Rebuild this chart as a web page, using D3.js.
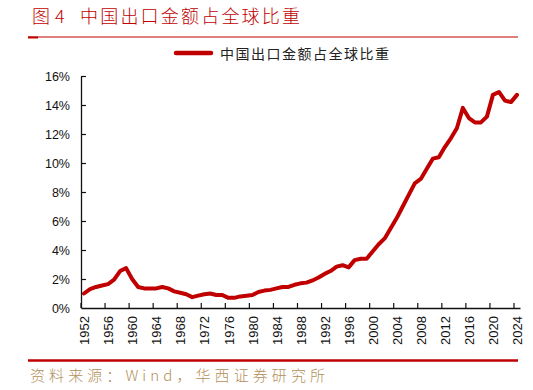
<!DOCTYPE html>
<html>
<head>
<meta charset="UTF-8">
<style>
  body { margin: 0; background: #fff; }
  .tick text { font-family: "Liberation Sans", Arial, sans-serif; fill: #111; }
  .cjk { font-family: "Noto Sans CJK SC", sans-serif; }
</style>
</head>
<body>
<svg id="chart" width="533" height="390"></svg>
<script src="https://cdn.jsdelivr.net/npm/d3@7"></script>
<script>
// 年份
const years = d3.range(1952, 2025);
// 中国出口金额占全球比重（%）
const share = [
  1.0, 1.3, 1.45, 1.55, 1.65, 1.95, 2.55, 2.75, 2.0, 1.45,
  1.35, 1.35, 1.35, 1.45, 1.35, 1.15, 1.05, 0.95, 0.75, 0.85,
  0.95, 1.0, 0.9, 0.9, 0.7, 0.7, 0.8, 0.85, 0.9, 1.1,
  1.2, 1.25, 1.35, 1.45, 1.45, 1.6, 1.7, 1.75, 1.9, 2.1,
  2.35, 2.55, 2.85, 2.95, 2.8, 3.3, 3.4, 3.4, 3.9, 4.4,
  4.8, 5.5, 6.2, 7.0, 7.8, 8.6, 8.9, 9.6, 10.3, 10.4,
  11.1, 11.7, 12.4, 13.8, 13.1, 12.8, 12.8, 13.2, 14.7, 14.9,
  14.3, 14.2, 14.7
];
const yTicks = [0, 2, 4, 6, 8, 10, 12, 14, 16];
const xTickYears = years.filter(d => (d - 1952) % 4 === 0);

const red = "#c00000";
const svg = d3.select("#chart");

// title
svg.append("text").attr("class", "cjk")
  .attr("x", 32).attr("y", 23)
  .attr("font-size", 18).attr("font-weight", 300).attr("fill", red)
  .text("图");
svg.append("text").attr("class", "cjk")
  .attr("x", 55).attr("y", 23)
  .attr("font-size", 18).attr("font-weight", 300).attr("fill", red)
  .text("4");
svg.append("text").attr("class", "cjk")
  .attr("x", 80).attr("y", 23)
  .attr("font-size", 18).attr("font-weight", 300).attr("fill", red)
  .attr("textLength", 220).attr("lengthAdjust", "spacing")
  .text("中国出口金额占全球比重");

// header / footer rules
svg.append("line").attr("x1", 28).attr("x2", 518).attr("y1", 37).attr("y2", 37)
  .attr("stroke", red).attr("stroke-width", 1.2);
svg.append("line").attr("x1", 28).attr("x2", 38).attr("y1", 37.5).attr("y2", 37.5)
  .attr("stroke", red).attr("stroke-width", 2);
svg.append("line").attr("x1", 28).attr("x2", 518).attr("y1", 360.5).attr("y2", 360.5)
  .attr("stroke", red).attr("stroke-width", 2.5);

// source
svg.append("text").attr("class", "cjk")
  .attr("x", 30).attr("y", 381)
  .attr("font-size", 15).attr("font-weight", 300).attr("fill", "#b38f5a")
  .attr("textLength", 295).attr("lengthAdjust", "spacing")
  .text("资料来源：Wind，华西证券研究所");

// legend
svg.append("line").attr("x1", 176).attr("x2", 211).attr("y1", 53).attr("y2", 53)
  .attr("stroke", red).attr("stroke-width", 4.5).attr("stroke-linecap", "round");
svg.append("text").attr("class", "cjk")
  .attr("x", 220).attr("y", 58.5)
  .attr("font-size", 14).attr("fill", "#222")
  .attr("textLength", 169).attr("lengthAdjust", "spacing")
  .text("中国出口金额占全球比重");

// scales
const x = d3.scaleBand().domain(years).range([81, 520]);
const bw = x.bandwidth();
const y = d3.scaleLinear().domain([0, 16]).range([308, 76]);

// y axis
const yAxis = svg.append("g")
  .attr("transform", "translate(81,0)")
  .call(d3.axisLeft(y).tickValues(yTicks).tickFormat(d => d + "%")
    .tickSizeInner(-5).tickSizeOuter(0).tickPadding(11));
yAxis.selectAll(".tick text").attr("font-size", 12.5);
yAxis.select(".domain").attr("stroke", "#111").attr("stroke-width", 1.3);
yAxis.selectAll(".tick line").attr("stroke", "#111").attr("stroke-width", 1.2);
yAxis.selectAll(".tick").filter(d => d === 0).select("line").remove();

// x axis
const xAxis = svg.append("g")
  .attr("transform", "translate(0,308)")
  .call(d3.axisBottom(x).tickValues(xTickYears)
    .tickSizeInner(-5).tickSizeOuter(0).tickPadding(0));
xAxis.select(".domain").attr("stroke", "#111").attr("stroke-width", 1.3);
xAxis.selectAll(".tick line")
  .attr("transform", `translate(${-bw / 2},0)`)
  .attr("stroke", "#111").attr("stroke-width", 1.2);
xAxis.selectAll(".tick text")
  .attr("font-size", 13)
  .attr("text-anchor", "end")
  .attr("transform", "translate(0.5,8) rotate(-90)")
  .attr("x", 0).attr("y", 0).attr("dy", "0.36em");

// line
const line = d3.line()
  .x((d, i) => x(years[i]) + bw / 2)
  .y(d => y(d));
svg.append("path")
  .datum(share)
  .attr("fill", "none")
  .attr("stroke", red)
  .attr("stroke-width", 4)
  .attr("stroke-linejoin", "round")
  .attr("stroke-linecap", "round")
  .attr("d", line);
</script>
</body>
</html>
